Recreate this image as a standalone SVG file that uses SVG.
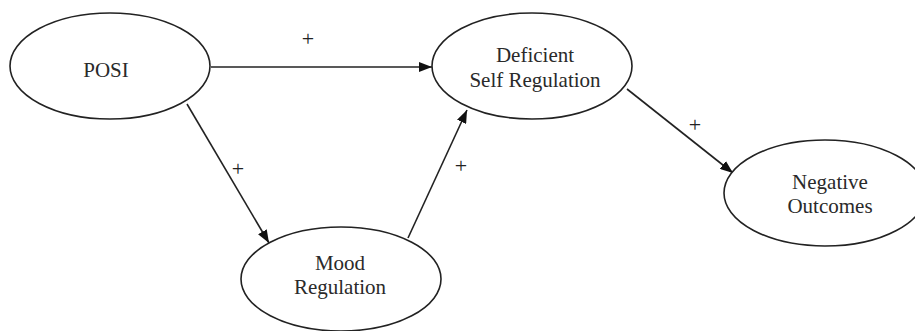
<svg xmlns="http://www.w3.org/2000/svg" width="915" height="331" viewBox="0 0 915 331">
<style>
.n{fill:#fff;stroke:#222;stroke-width:1.6}
.t{font-family:"Liberation Serif","Times New Roman",serif;font-size:21px;fill:#2a2a2a;text-anchor:middle}
.p{font-family:"Liberation Serif","Times New Roman",serif;font-size:22px;fill:#222;text-anchor:middle}
.c{stroke:#222;stroke-width:1.6;fill:none;marker-end:url(#ah)}
</style>
<defs>
<marker id="ah" markerUnits="userSpaceOnUse" markerWidth="14" markerHeight="10" refX="13" refY="5" orient="auto">
<path d="M0,0 L13,5 L0,10 Z" fill="#111"/>
</marker>
</defs>
<rect width="915" height="331" fill="#fff"/>
<g id="connectors">
<line class="c" x1="211" y1="67" x2="432" y2="67"/>
<line class="c" x1="187" y1="104" x2="269" y2="243"/>
<line class="c" x1="408" y1="238" x2="467" y2="110"/>
<line class="c" x1="627" y1="89" x2="733" y2="173"/>
<text class="p" x="308" y="46">+</text>
<text class="p" x="238" y="176">+</text>
<text class="p" x="461" y="173">+</text>
<text class="p" x="695" y="132">+</text>
</g>
<g id="posi">
<ellipse class="n" cx="110" cy="66" rx="100" ry="53"/>
<text class="t" x="106" y="77">POSI</text>
</g>
<g id="deficient">
<ellipse class="n" cx="532" cy="66" rx="100" ry="53"/>
<text class="t" x="535" y="62">Deficient</text>
<text class="t" x="535" y="87">Self Regulation</text>
</g>
<g id="mood">
<ellipse class="n" cx="341" cy="279" rx="100" ry="52"/>
<text class="t" x="340" y="270">Mood</text>
<text class="t" x="340" y="294">Regulation</text>
</g>
<g id="negative">
<ellipse class="n" cx="825" cy="193" rx="101" ry="53"/>
<text class="t" x="830" y="189">Negative</text>
<text class="t" x="830" y="213">Outcomes</text>
</g>
</svg>
